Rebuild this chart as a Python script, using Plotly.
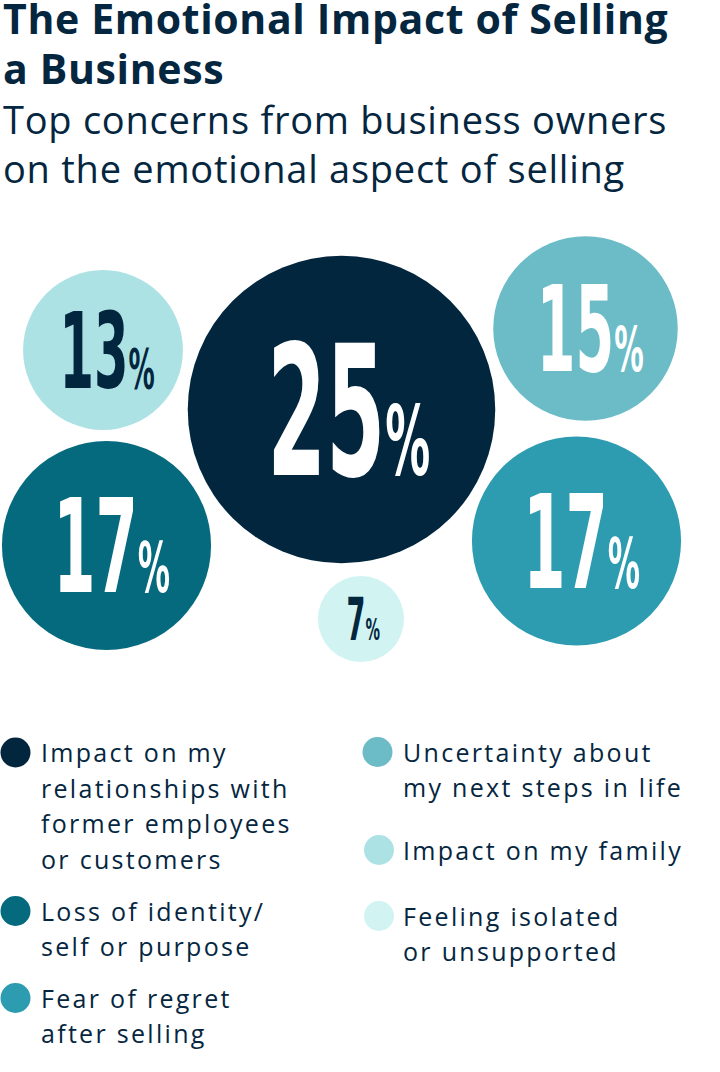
import plotly.graph_objects as go

# ---- data ----
categories = [
    "Impact on my relationships with former employees or customers",
    "Loss of identity/self or purpose",
    "Fear of regret after selling",
    "Uncertainty about my next steps in life",
    "Impact on my family",
    "Feeling isolated or unsupported",
]
legend_lines = [
    ["Impact on my", "relationships with", "former employees", "or customers"],
    ["Loss of identity/", "self or purpose"],
    ["Fear of regret", "after selling"],
    ["Uncertainty about", "my next steps in life"],
    ["Impact on my family"],
    ["Feeling isolated", "or unsupported"],
]
values = [25, 17, 17, 15, 13, 7]
title_lines = ["The Emotional Impact of Selling", "a Business"]
subtitle_lines = ["Top concerns from business owners", "on the emotional aspect of selling"]

# ---- styles / layout positions ----
colors = ["#02263e", "#066a7e", "#2e9cb0", "#6bbcc6", "#ade2e5", "#d1f4f3"]
text_colors = ["white", "white", "white", "white", "#02263e", "#02263e"]
num_font_sizes = [181, 130, 130, 119, 106, 58]
bubble_x = [341.5, 106.5, 576.5, 585.5, 103, 361]
bubble_y = [409.5, 545.5, 541, 328.5, 350, 619]
legend_x = [15.5, 15.5, 15.5, 377.5, 379, 379]
legend_y = [752.5, 911, 998, 752, 850, 916]
legend_text_x = [40, 40, 40, 402, 402, 402]

NAVY = "#05263f"
NUM_FONT = "DejaVu Sans Condensed, DejaVu Sans, sans-serif"
BODY_FONT = "Open Sans, Roboto, sans-serif"
PX_PER_UNIT = 12.3  # bubble diameter in px per percentage point
BASE_K = 1.16       # top-of-box to first baseline, in em (borderpad 1)
SQUEEZE = 0.52      # horizontal condensing of the big numbers
W, H = 720, 1072

labels = [f"{v}<span style='font-size:{s*0.53:.0f}px'>%</span>" for v, s in zip(values, num_font_sizes)]
label_x = [cx + 0.04 * s for cx, s in zip(bubble_x, num_font_sizes)]
label_y = [cy + 0.11 * s for cy, s in zip(bubble_y, num_font_sizes)]

fig = go.Figure()

fig.add_trace(go.Scatter(
    x=bubble_x, y=bubble_y,
    mode="markers",
    marker=dict(size=values, sizemode="diameter", sizeref=1 / PX_PER_UNIT,
                color=colors, line=dict(width=0), opacity=1),
    hovertext=[f"{c}: {v}%" for c, v in zip(categories, values)], hoverinfo="text",
    showlegend=False,
))

fig.add_trace(go.Scatter(
    x=label_x, y=label_y,
    mode="text",
    text=labels,
    textposition="middle center",
    textfont=dict(family=NUM_FONT, size=num_font_sizes, color=text_colors, weight="bold"),
    hoverinfo="skip", showlegend=False,
))

fig.add_trace(go.Scatter(
    x=legend_x, y=legend_y, mode="markers",
    marker=dict(size=30, color=colors, line=dict(width=0)),
    hovertext=categories, hoverinfo="text", showlegend=False,
))


def add_line(text, x, baseline, size, bold=False, spacing=0.0, trim=0.0, pad=1):
    # trim: fraction of em removed from the empty space above the capitals
    clip = trim * size
    extra = {}
    if trim:
        extra = dict(height=round(1.362 * size - clip), valign="bottom")
    fig.add_annotation(
        x=x, y=1, xref="x", yref="paper", xanchor="left", yanchor="top",
        yshift=-(baseline - BASE_K * size + clip - (1 - pad)),
        text=f"<span style='letter-spacing:{spacing}px'>{text}</span>",
        showarrow=False, align="left", borderpad=pad,
        font=dict(family=BODY_FONT, size=size, color=NAVY,
                  weight="bold" if bold else "normal"),
        **extra,
    )


LEG_SIZE = 25
for lx, ly, lines in zip(legend_text_x, legend_y, legend_lines):
    for i, ln in enumerate(lines):
        add_line(ln, lx, ly + 11.5 + 35.5 * i, LEG_SIZE, spacing=2.3, pad=0)

for i, ln in enumerate(title_lines):
    add_line(ln, 1, 36.5 + 49.5 * i, 41, bold=True, spacing=0.65, trim=0.28)
for i, ln in enumerate(subtitle_lines):
    add_line(ln, 1, 135 + 49 * i, 38, spacing=0.75, trim=0.28)

fig.update_layout(
    width=W, height=H,
    margin=dict(l=0, r=0, t=0, b=0),
    paper_bgcolor="white", plot_bgcolor="white",
    xaxis=dict(range=[0, W], visible=False, fixedrange=True),
    yaxis=dict(range=[H, 0], visible=False, fixedrange=True),
)

post = """
document.body.style.margin='0';document.body.style.overflow='hidden';
var gd=document.getElementById('{plot_id}');
gd.querySelectorAll('.textpoint text').forEach(function(t){
  var x=parseFloat(t.getAttribute('x')), y=parseFloat(t.getAttribute('y'));
  t.setAttribute('transform','translate('+x+','+y+') scale(SQ,1) translate('+(-x)+','+(-y)+')');
});
""".replace("SQ", str(SQUEEZE))

fig.write_html("out.html", config={"displayModeBar": False}, post_script=post)
